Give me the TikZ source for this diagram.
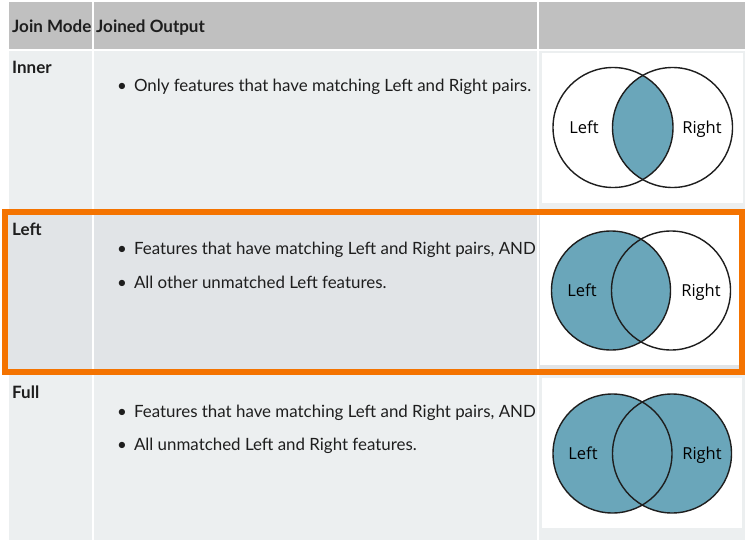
\documentclass[tikz,border=0pt]{standalone}
\usepackage{fontspec}
\setmainfont{Lato}
\newfontfamily\vennfont{Open Sans}
\definecolor{hdr}{HTML}{C0C0C0}
\definecolor{rowA}{HTML}{ECEFF0}
\definecolor{rowB}{HTML}{E1E4E7}
\definecolor{venn}{HTML}{6AA6BA}
\definecolor{orng}{HTML}{F47300}
\definecolor{ink}{HTML}{1E1E1E}
\tikzset{
  hd/.style={anchor=base west, inner sep=0pt, font=\fontsize{17}{20}\selectfont\bfseries, text=ink},
  lbl/.style={anchor=base west, inner sep=0pt, font=\fontsize{17}{20}\selectfont\bfseries, text=ink},
  bul/.style={anchor=base west, inner sep=0pt, font=\fontsize{16.9}{20}\selectfont, text=ink},
  vl/.style={anchor=base, inner sep=0pt, font=\vennfont\fontsize{16.5}{18}\selectfont, text=black},
  ring/.style={draw=ink, line width=1.4pt},
}
\begin{document}
\begin{tikzpicture}[x=1pt,y=-1pt]
\useasboundingbox (0,0) rectangle (750,546);
\fill[white] (0,0) rectangle (750,546);
% header
\fill[hdr] (9,2) rectangle (92,49);
\fill[hdr] (94,2) rectangle (537,49);
\fill[hdr] (539,2) rectangle (745,49);
% row 1
\fill[rowA] (9,51) rectangle (92,209);
\fill[rowA] (94,51) rectangle (537,209);
\fill[rowA] (539,51) rectangle (745,209);
\fill[white] (542,53) rectangle (743,203);
% row 2
\fill[rowB] (8,210) rectangle (92,372);
\fill[rowB] (94,210) rectangle (537,372);
\fill[rowB] (539,210) rectangle (742,372);
\fill[white] (540,215) rectangle (739,365);
% row 3
\fill[rowA] (9,375) rectangle (92,540);
\fill[rowA] (94,375) rectangle (537,540);
\fill[rowA] (539,375) rectangle (745,540);
\fill[white] (542,378) rectangle (742,528);
% orange highlight
\draw[orng, line width=6pt] (4.5,212) rectangle (742,371.5);

% texts
\node[hd] (h1) at (12,32) {Join Mode};
\node[hd] (h2) at (96,32) {Joined Output};
\node[lbl] (m1) at (12,73) {Inner};
\node[lbl] (m2) at (12,235) {Left};
\node[lbl] (m3) at (12,398) {Full};
\node[bul] (b11) at (117,91) {\textbullet\hspace{7pt}Only features that have matching Left and Right pairs.};
\node[bul] (b21) at (117,254) {\textbullet\hspace{7pt}Features that have matching Left and Right pairs, AND};
\node[bul] (b22) at (117,288) {\textbullet\hspace{7pt}All other unmatched Left features.};
\node[bul] (b31) at (117,417) {\textbullet\hspace{7pt}Features that have matching Left and Right pairs, AND};
\node[bul] (b32) at (117,450) {\textbullet\hspace{7pt}All unmatched Left and Right features.};

% venn inner
\begin{scope}
  \clip (613,127.5) circle (60);
  \fill[venn] (672.5,127.5) circle (60);
\end{scope}
\draw[ring] (613,127.5) circle (60);
\draw[ring] (672.5,127.5) circle (60);
\node[vl] (v1l) at (584,133.5) {Left};
\node[vl] (v1r) at (702,133.5) {Right};

% venn left
\fill[venn] (611,290.5) circle (59.5);
\draw[ring] (611,290.5) circle (59.5);
\draw[ring] (671,290.5) circle (59.5);
\node[vl] (v2l) at (582,296.5) {Left};
\node[vl] (v2r) at (701,296.5) {Right};

% venn full
\fill[venn] (612.5,453.5) circle (59.5);
\fill[venn] (672,453.5) circle (59.5);
\draw[ring] (612.5,453.5) circle (59.5);
\draw[ring] (672,453.5) circle (59.5);
\node[vl] (v3l) at (583,459.5) {Left};
\node[vl] (v3r) at (702,459.5) {Right};
\end{tikzpicture}
\end{document}
